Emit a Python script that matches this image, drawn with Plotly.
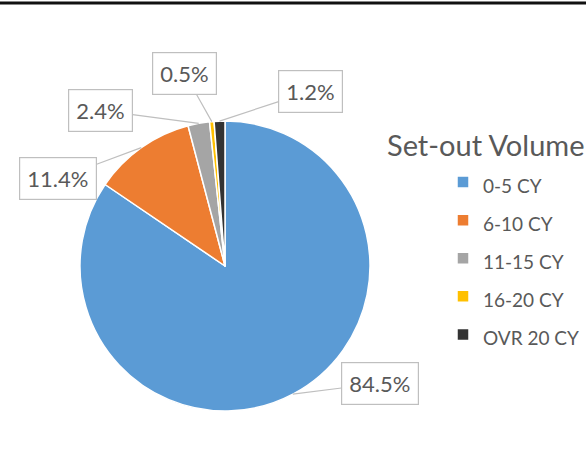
import math
import plotly.graph_objects as go

# ---- data ----
categories = ["0-5 CY", "6-10 CY", "11-15 CY", "16-20 CY", "OVR 20 CY"]
shares = [84.5, 11.4, 2.4, 0.5, 1.2]
label_text = ["84.5%", "11.4%", "2.4%", "0.5%", "1.2%"]
colors = ["#5B9BD5", "#ED7D31", "#A5A5A5", "#FFC000", "#333333"]
legend_title = "Set-out Volume"

# ---- layout constants ----
W, H = 586, 474
cx, cy, r = 225, 266, 145  # pie centre / radius in pixels
# label box offsets (pixels) relative to the leader-line tip
offsets = [(87, -11), (-83, 31), (-98, -13), (-27, -48), (91, -30)]
FONT = "Lato, Carlito, Calibri, sans-serif"

dom_x = [(cx - r) / W, (cx + r) / W]
dom_y = [(H - (cy + r)) / H, (H - (cy - r)) / H]

fig = go.Figure(go.Pie(
    labels=[f'<span style="font-size:19px">{c}</span>' for c in categories],
    values=shares,
    sort=False,
    direction="clockwise",
    rotation=0,
    marker=dict(colors=colors, line=dict(color="white", width=1.5)),
    textinfo="none",
    hoverinfo="label+percent",
    domain=dict(x=dom_x, y=dom_y),
))

# label boxes with leader lines, tips at slice mid-angles
total = sum(shares)
cum = 0.0
annotations = []
for v, txt, (ax, ay) in zip(shares, label_text, offsets):
    mid = (cum + v / 2) / total * 2 * math.pi
    cum += v
    px = cx + r * math.sin(mid)
    py = cy - r * math.cos(mid)
    annotations.append(dict(
        x=px / W, y=1 - py / H, xref="paper", yref="paper",
        text=txt, showarrow=True, arrowhead=0, arrowwidth=1.2,
        arrowcolor="#BFBFBF", ax=ax, ay=ay, standoff=0,
        bordercolor="#BFBFBF", borderwidth=1.2, borderpad=7,
        bgcolor="white",
        font=dict(family=FONT, size=22, color="#595959"),
    ))

annotations.append(dict(
    x=385 / W, y=1 - 144 / H, xref="paper", yref="paper",
    xanchor="left", yanchor="middle", showarrow=False,
    text=legend_title,
    font=dict(family=FONT, size=29, color="#595959"),
))

fig.update_layout(
    width=W, height=H,
    margin=dict(l=0, r=0, t=0, b=0),
    paper_bgcolor="white",
    plot_bgcolor="white",
    annotations=annotations,
    showlegend=True,
    legend=dict(
        x=443 / W, y=1 - 158 / H, xanchor="left", yanchor="top",
        font=dict(family=FONT, size=27, color="#595959"),
        itemwidth=30, bgcolor="rgba(0,0,0,0)",
    ),
    shapes=[dict(type="line", xref="paper", yref="paper",
                 x0=0, x1=1, y0=1 - 3 / H, y1=1 - 3 / H,
                 line=dict(color="#111111", width=3))],
)

fig.write_html("out.html", config={"displayModeBar": False},
               post_script="document.body.style.margin='0';")
